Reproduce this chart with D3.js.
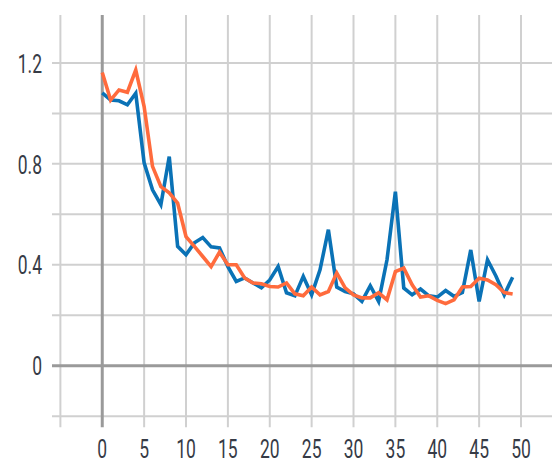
<!DOCTYPE html>
<html>
<head>
<meta charset="utf-8">
<script src="https://cdn.jsdelivr.net/npm/d3@7"></script>
<style>
  html, body { margin: 0; padding: 0; background: #ffffff; }
  svg { display: block; }
  .tick-label { font-family: Roboto, "Liberation Sans", sans-serif; font-size: 25px; fill: #363b46; }
</style>
</head>
<body>
<svg id="chart" width="552" height="462"></svg>
<script>
// Step index along the x axis
const steps = d3.range(0, 50);

// Series values, one per step
const blueValues = [
  1.081, 1.053, 1.050, 1.034, 1.080, 0.804, 0.697, 0.638, 0.829, 0.473,
  0.440, 0.487, 0.508, 0.471, 0.467, 0.393, 0.334, 0.348, 0.328, 0.309,
  0.340, 0.393, 0.289, 0.277, 0.354, 0.281, 0.380, 0.539, 0.312, 0.294,
  0.285, 0.255, 0.317, 0.255, 0.420, 0.690, 0.308, 0.281, 0.304, 0.277,
  0.272, 0.298, 0.275, 0.290, 0.459, 0.255, 0.420, 0.356, 0.281, 0.351
];
const orangeValues = [
  1.162, 1.053, 1.093, 1.084, 1.172, 1.027, 0.790, 0.710, 0.685, 0.645,
  0.512, 0.473, 0.433, 0.393, 0.450, 0.400, 0.400, 0.348, 0.328, 0.325,
  0.314, 0.312, 0.328, 0.285, 0.277, 0.312, 0.281, 0.294, 0.368, 0.309,
  0.281, 0.269, 0.269, 0.289, 0.261, 0.373, 0.387, 0.321, 0.272, 0.277,
  0.259, 0.246, 0.261, 0.312, 0.314, 0.347, 0.340, 0.321, 0.290, 0.284
];

// Tick values and which of them carry labels
const xTicks = d3.range(-5, 51, 5);
const xLabels = d3.range(0, 51, 5);
const yTicks = [-0.2, 0, 0.2, 0.4, 0.6, 0.8, 1.0, 1.2];
const yLabels = [0, 0.4, 0.8, 1.2];

const svg = d3.select("#chart");
const plotLeft = 52, plotRight = 552, plotTop = 15, plotBottom = 416.2;

const x = d3.scaleLinear().domain([-6, 53.7]).range([plotLeft, plotRight]);
const y = d3.scaleLinear().domain([-0.2, 1.39]).range([plotBottom, plotTop]);

const grid = svg.append("g");

// vertical grid lines, running a little below the plot as tick marks
grid.selectAll("line.vx")
  .data(xTicks.filter(d => d !== 0))
  .join("line")
  .attr("x1", d => x(d)).attr("x2", d => x(d))
  .attr("y1", plotTop).attr("y2", plotBottom + 11)
  .attr("stroke", "#d0d0d0").attr("stroke-width", 2);

// horizontal grid lines, running a little left of the plot as tick marks
grid.selectAll("line.hy")
  .data(yTicks.filter(d => d !== 0))
  .join("line")
  .attr("x1", plotLeft).attr("x2", plotRight)
  .attr("y1", d => y(d)).attr("y2", d => y(d))
  .attr("stroke", "#d0d0d0").attr("stroke-width", 2);

// zero lines
grid.append("line")
  .attr("x1", x(0)).attr("x2", x(0))
  .attr("y1", plotTop).attr("y2", plotBottom + 11)
  .attr("stroke", "#9a9a9a").attr("stroke-width", 3);
grid.append("line")
  .attr("x1", plotLeft).attr("x2", plotRight)
  .attr("y1", y(0)).attr("y2", y(0))
  .attr("stroke", "#9a9a9a").attr("stroke-width", 3);

// axis labels (narrow face)
const sx = 0.7;
svg.append("g").selectAll("text")
  .data(yLabels)
  .join("text")
  .attr("class", "tick-label")
  .attr("text-anchor", "end")
  .attr("dominant-baseline", "central")
  .attr("transform", d => `translate(42,${y(d) + 1}) scale(${sx},1)`)
  .text(d => d3.format("~g")(d));

svg.append("g").selectAll("text")
  .data(xLabels)
  .join("text")
  .attr("class", "tick-label")
  .attr("text-anchor", "middle")
  .attr("dominant-baseline", "central")
  .attr("transform", d => `translate(${x(d)},449) scale(${sx},1)`)
  .text(d => d);

// series lines
const line = d3.line().x((d, i) => x(steps[i])).y(d => y(d));

svg.append("path")
  .datum(blueValues)
  .attr("d", line)
  .attr("fill", "none")
  .attr("stroke", "#0a72b6")
  .attr("stroke-width", 3.6)
  .attr("stroke-linejoin", "miter");

svg.append("path")
  .datum(orangeValues)
  .attr("d", line)
  .attr("fill", "none")
  .attr("stroke", "#ff6b3d")
  .attr("stroke-width", 3.6)
  .attr("stroke-linejoin", "miter");
</script>
</body>
</html>
